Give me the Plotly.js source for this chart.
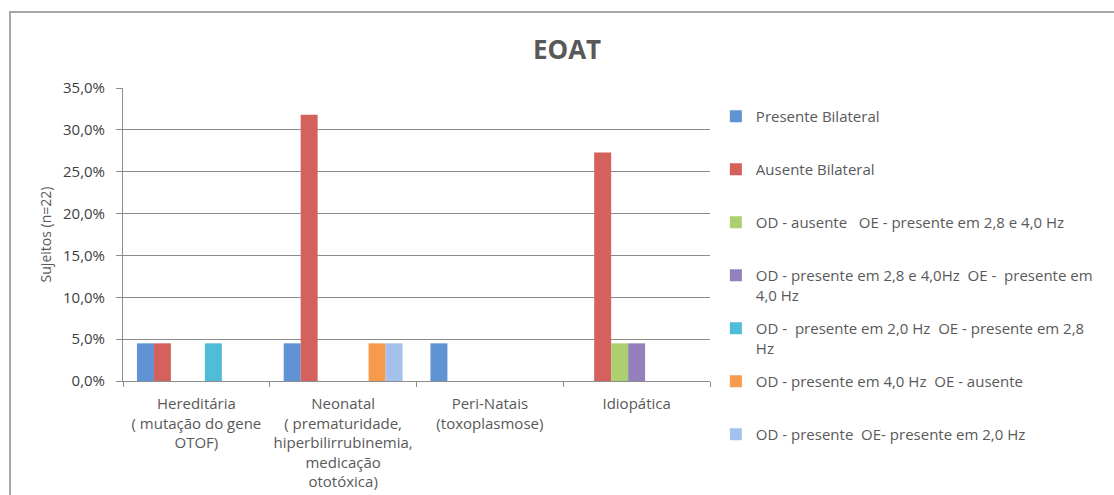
<!DOCTYPE html>
<html>
<head>
<meta charset="utf-8">
<script src="https://cdn.plot.ly/plotly-3.0.1.min.js"></script>
<style>html,body{margin:0;padding:0;background:#fff;}#chart{width:1114px;height:495px;}</style>
</head>
<body>
<div id="chart"></div>
<script>
const categories = [
  "Hereditária<br>( mutação do gene<br>OTOF)",
  "Neonatal<br>( prematuridade,<br>hiperbilirrubinemia,<br>medicação<br>ototóxica)",
  "Peri-Natais<br>(toxoplasmose)",
  "Idiopática"
];
const seriesNames = [
  "Presente Bilateral",
  "Ausente Bilateral",
  "OD - ausente   OE - presente em 2,8 e 4,0 Hz",
  "OD - presente em 2,8 e 4,0Hz  OE -  presente em<br>4,0 Hz",
  "OD -  presente em 2,0 Hz  OE - presente em 2,8<br>Hz",
  "OD - presente em 4,0 Hz  OE - ausente",
  "OD - presente  OE- presente em 2,0 Hz"
];
const presenteBilateral = [0.045, 0.045, 0.045, 0];
const ausenteBilateral  = [0.045, 0.318, 0, 0.273];
const odAusente         = [0, 0, 0, 0.045];
const odPresente28_40   = [0, 0, 0, 0.045];
const odPresente20      = [0.045, 0, 0, 0];
const odPresente40      = [0, 0.045, 0, 0];
const odPresenteOe20    = [0, 0.045, 0, 0];
const seriesValues = [presenteBilateral, ausenteBilateral, odAusente, odPresente28_40, odPresente20, odPresente40, odPresenteOe20];
const seriesColors = ["#5f93d3", "#d5615c", "#acd06f", "#9480bd", "#4fbcd8", "#f79a4c", "#a3c1ec"];

const FONT = "Open Sans, DejaVu Sans, sans-serif";
const traces = seriesNames.map((n, i) => ({
  type: "bar",
  name: n.indexOf("<br>") >= 0 ? n : n + "<br> ",
  x: categories,
  y: seriesValues[i],
  marker: {color: seriesColors[i]},
  legendgroup: "g" + i
}));

const layout = {
  width: 1114, height: 495,
  margin: {l: 123, r: 404, t: 88, b: 114},
  paper_bgcolor: "#ffffff", plot_bgcolor: "#ffffff",
  separators: ",.",
  font: {family: FONT, size: 15, color: "#595959"},
  title: {text: "EOAT", x: 0.509, xref: "container", xanchor: "center", y: 0.9, yanchor: "middle",
          font: {family: FONT, size: 26, color: "#595959", weight: "bold"}},
  barmode: "group", bargap: 0.19, bargroupgap: 0,
  showlegend: true,
  legend: {x: 1.01, xanchor: "left", y: 0.959, yanchor: "top", valign: "top", maxheight: 480,
           tracegroupgap: 11, itemwidth: 30, font: {family: FONT, size: 15, color: "#595959"},
           bgcolor: "rgba(0,0,0,0)"},
  xaxis: {type: "category", showgrid: false, showline: true, linecolor: "#8c8c8c", linewidth: 1,
          ticks: "outside", tickson: "boundaries", ticklen: 5, tickcolor: "#8c8c8c", tickangle: 0,
          ticklabelstandoff: 9,
          tickfont: {family: FONT, size: 15, color: "#595959"}, fixedrange: true},
  yaxis: {range: [0, 0.35], dtick: 0.05, tickformat: ".1%", showgrid: true, gridcolor: "#8c8c8c", gridwidth: 1,
          showline: true, linecolor: "#8c8c8c", ticks: "outside", ticklen: 6, tickcolor: "#8c8c8c",
          ticklabelstandoff: 8,
          tickfont: {family: FONT, size: 15, color: "#404040"}, zeroline: false,
          title: {text: "Sujeitos (n=22)", standoff: 8, font: {family: FONT, size: 14, color: "#595959"}}},
  shapes: [{type: "rect", xref: "paper", yref: "paper",
            x0: (10 - 123) / 587, x1: (1130 - 123) / 587, y0: -0.5, y1: (381 - 12) / 293,
            line: {color: "#a6a6a6", width: 2}, fillcolor: "rgba(0,0,0,0)", layer: "below"}]
};

Plotly.newPlot("chart", traces, layout, {displayModeBar: false, staticPlot: true});
</script>
</body>
</html>
